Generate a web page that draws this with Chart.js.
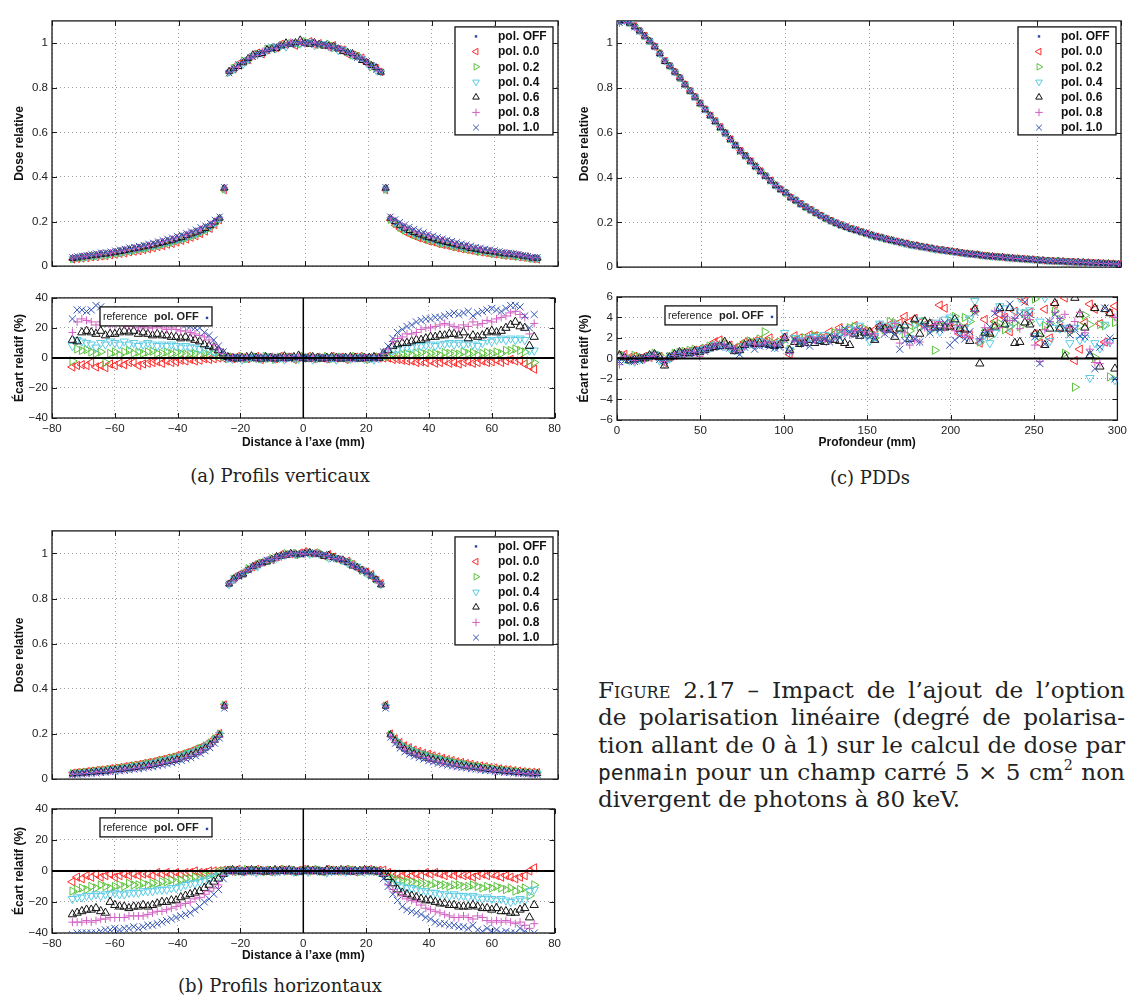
<!DOCTYPE html>
<html><head><meta charset="utf-8">
<script src="https://cdn.jsdelivr.net/npm/chart.js@4.4.1/dist/chart.umd.min.js"></script>
<style>
body{margin:0;background:#fff;width:1131px;height:999px;position:relative;overflow:hidden;}
canvas{position:absolute;}
.sub{position:absolute;width:300px;text-align:center;font-family:'DejaVu Serif',serif;font-size:18px;line-height:24px;color:#222;}
#fig{position:absolute;left:598px;top:677px;width:527px;font-family:'DejaVu Serif',serif;font-size:24px;line-height:27.3px;color:#222;}
#fig .ln{white-space:nowrap;}
#fig .in{display:inline-block;white-space:nowrap;}
#fig .tt{font-family:'DejaVu Sans Mono','Liberation Mono',monospace;font-size:0.92em;}
#fig sup{font-size:0.62em;line-height:0;vertical-align:0.7em;}
.sc{font-variant:small-caps;}
</style></head><body>
<canvas id="cA" width="555" height="267" style="left:10px;top:10px"></canvas>
<canvas id="cAr" width="555" height="167" style="left:10px;top:287px"></canvas>
<canvas id="cC" width="556" height="268" style="left:575px;top:10px"></canvas>
<canvas id="cCr" width="556" height="168" style="left:575px;top:286px"></canvas>
<canvas id="cB" width="555" height="270" style="left:10px;top:520px"></canvas>
<canvas id="cBr" width="555" height="169" style="left:10px;top:798px"></canvas>
<div class="sub" style="left:130px;top:464px">(a) Profils verticaux</div>
<div class="sub" style="left:720px;top:466px">(c) PDDs</div>
<div class="sub" style="left:130px;top:974px">(b) Profils horizontaux</div>
<div id="fig">
<div class="ln"><span class="in"><span class="sc">Figure</span> 2.17 – Impact de l’ajout de l’option</span></div>
<div class="ln"><span class="in">de polarisation linéaire (degré de polarisa-</span></div>
<div class="ln"><span class="in">tion allant de 0 à 1) sur le calcul de dose par</span></div>
<div class="ln"><span class="in"><span class="tt">penmain</span> pour un champ carré 5 × 5 cm<sup>2</sup> non</span></div>
<div class="ln last"><span class="in">divergent de photons à 80 keV.</span></div>
</div>
<script>
// ---------- DATA ----------
const seriesLabels = ['pol. OFF','pol. 0.0','pol. 0.2','pol. 0.4','pol. 0.6','pol. 0.8','pol. 1.0'];
const doseTicks = [0,0.2,0.4,0.6,0.8,1];
const profileTicks = [-80,-60,-40,-20,0,20,40,60,80];
const depthTicks = [0,50,100,150,200,250,300];
const profileDevTicks = [-40,-20,0,20,40];
const depthDevTicks = [-6,-4,-2,0,2,4,6];

const profileX = [-73.5,-72,-70.5,-69,-67.5,-66,-64.5,-63,-61.5,-60,-58.5,-57,-55.5,-54,-52.5,-51,-49.5,-48,-46.5,-45,-43.5,-42,-40.5,-39,-37.5,-36,-34.5,-33,-31.5,-30,-28.5,-27,
-25.5,
-24,-22.5,-21,-19.5,-18,-16.5,-15,-13.5,-12,-10.5,-9,-7.5,-6,-4.5,-3,-1.5,0,1.5,3,4.5,6,7.5,9,10.5,12,13.5,15,16.5,18,19.5,21,22.5,24,
25.5,
27,28.5,30,31.5,33,34.5,36,37.5,39,40.5,42,43.5,45,46.5,48,49.5,51,52.5,54,55.5,57,58.5,60,61.5,63,64.5,66,67.5,69,70.5,72,73.5];

// pol. OFF relative dose, vertical profile
const vertDose = [0.031,0.033,0.035,0.037,0.040,0.042,0.045,0.047,0.050,0.053,0.056,0.059,0.063,0.066,0.070,0.074,0.078,0.082,0.087,0.092,0.097,0.102,0.108,0.114,0.121,0.128,0.136,0.145,0.155,0.168,0.185,0.205,
0.34,
0.870,0.886,0.900,0.914,0.927,0.939,0.949,0.959,0.967,0.975,0.982,0.988,0.992,0.996,0.998,1.000,1.000,1.000,0.998,0.996,0.992,0.988,0.982,0.975,0.967,0.959,0.949,0.939,0.927,0.914,0.900,0.886,0.870,
0.34,
0.205,0.185,0.168,0.155,0.145,0.136,0.128,0.121,0.114,0.108,0.102,0.097,0.092,0.087,0.082,0.078,0.074,0.070,0.066,0.063,0.059,0.056,0.053,0.050,0.047,0.045,0.042,0.040,0.037,0.035,0.033,0.031];

// pol. OFF relative dose, horizontal profile
const horizDose = [0.031,0.033,0.035,0.037,0.040,0.042,0.045,0.047,0.050,0.053,0.056,0.059,0.063,0.066,0.070,0.074,0.078,0.082,0.087,0.092,0.097,0.102,0.108,0.114,0.121,0.128,0.136,0.145,0.155,0.168,0.185,0.205,
0.33,
0.865,0.884,0.899,0.913,0.926,0.938,0.949,0.959,0.967,0.975,0.982,0.988,0.992,0.996,0.998,1.000,1.000,1.000,0.998,0.996,0.992,0.988,0.982,0.975,0.967,0.959,0.949,0.939,0.927,0.914,0.900,0.884,0.865,
0.33,
0.205,0.185,0.168,0.155,0.145,0.136,0.128,0.121,0.114,0.108,0.102,0.097,0.092,0.087,0.082,0.078,0.074,0.070,0.066,0.063,0.059,0.056,0.053,0.050,0.047,0.045,0.042,0.040,0.037,0.035,0.033,0.031];

// relative deviation (%) vs pol. OFF, vertical profiles
const vertDev00 = [-6,-5,-4.5,-5,-3,-6,-5,-6.5,-4,-5,-3.5,-4.5,-3,-3,-5,-4,-3.5,-3,-2.5,-3.5,-2,-3,-2.5,-1.5,-2,-1,-2,-1.5,-0.5,-1,-0.5,0,
0,
0.5,-0.5,1,0,-0.5,0.5,1,-1,0,0.5,-0.5,1,0,0.5,-1,0.5,0,1,-0.5,0.5,0,-0.5,1,0,0.5,-1,0,0.5,1,-0.5,0,0.5,0,
0,
0,-1,-1,-1.5,-2,-2,-3,-2.5,-3,-2,-3.5,-3,-2,-3.5,-3,-4,-3,-2.5,-3.5,-3,-2,-3,-2.5,-1.5,-3,-2,-1,-2,-1.5,-4,-5.5,-7.5];
const vertDev02 = [-2,6,5,5.5,4,3,4,-3,3,4,2,4,5,3,4,3,4,4.5,3,3,4,3,3.5,3,2.5,3,3,2,3,2,2,1.5,
1,
-0.5,0.5,0,1,-0.5,0,0.5,-0.5,1,0,-1,0.5,0,0.5,0,-0.5,1,0,0.5,-0.5,0,1,-0.5,0,0.5,0,-0.5,1,0,0.5,-1,0,0.5,
0.5,
1,2,2,2.5,3,2,3,3.5,2.5,3,3,2,3.5,3,3,2.5,4,3,3.5,2,3,3.5,3,4,3,5,5,6,5,4,-2,-3];
const vertDev04 = [8,12,11,10,9,7,10,9,11,10,9,11,9,10,8,9,10,9,8,9,8,9,8,7,8,7,7,6,6,5,4,3,
1.5,
0,-0.5,0.5,-1,0,0.5,0,-0.5,0,1,-0.5,0,-1,0.5,0,-0.5,0,0.5,-1,0,0.5,-0.5,0,-1,0.5,0,-0.5,0,0.5,-0.5,0,-1,0,
1.5,
3,5,6,6.5,7,7,8,8,8.5,9,8,9,9.5,10,9,10,9,10,9,8,10,12,11,12,13,12,13,12,13,12,5,5];
const vertDev06 = [12,11,17,18,17,16,18,15,16,16,17,18,17,18,16,17,16,15,16,15,15,14,14,13,14,13,12,11,9,8,7,5,
3,
0.5,0,-0.5,0,0.5,1,0,-0.5,0.5,0,-0.5,0,1,0,0.5,1.5,0,-0.5,0.5,0,-0.5,0,0.5,0,-0.5,0,0.5,0,-0.5,0,0,0.5,0,
3,
5,8,9,10,10,11,12,12,13,14,14,15,15,16,16,15,17,13,15,14,15,17,18,17,18,20,22,24,21,20,8,14];
const vertDev08 = [17,24,26,25,24,22,24,23,22,22,23,22,21,22,20,21,20,20,21,20,19,20,19,18,18,17,16,15,14,12,9,6,
3,
0,0.5,-0.5,0,0.5,0,-0.5,0.5,0,0,-0.5,0.5,0,1,0,0.5,-0.5,0,0.5,0,0,-0.5,0.5,0,0.5,-0.5,0,0,0.5,0,-0.5,0,0.5,
3,
6,11,13,14,16,16,17,19,20,20,21,22,23,22,21,20,22,21,24,22,23,25,24,26,27,28,30,31,29,27,16,23];
const vertDev10 = [26,32,32,31,32,35,34,32,30,31,32,31,32,30,29,28,28,27,27,26,26,25,25,24,22,21,20,20,17,15,12,8,
4,
-0.5,0,0.5,0,-0.5,0,0.5,0,0,-0.5,0.5,0,0,-0.5,0.5,0,0,0.5,-0.5,0,0.5,0,-0.5,0,0.5,0,0,-0.5,0,0.5,0,-0.5,0,
4,
8,13,17,19,21,22,24,25,26,26,27,27,28,29,30,29,30,31,28,30,31,32,33,32,31,33,35,35,34,28,20,29];

// relative deviation (%) vs pol. OFF, horizontal profiles
const horizDev00 = [-7,-4,-5,-3,-4,-2,-4,-3,-2,-4,-3,-2,-3,-2,-3,-2,-2,-3,-1,-2,-1,-2,-1,-2,-1,-1,0,-1,-1,0,0,0,
0.5,
0.5,0,1,-0.5,0.5,0,1,0,0.5,-0.5,0,1,0.5,0,-0.5,0.5,1,0,0.5,0,-0.5,1,0.5,0,0,1,0.5,-0.5,0,0.5,1,0,0.5,
0.5,
-1,-2,-2,-3,-2,-3,-2,-3,-1,-2,-1,-2,-3,-2,-3,-2,-3,-3,-4,-3,-2,-3,-2,-3,-4,-3,-4,-5,-4,-3,0,2];
const horizDev02 = [-13,-12,-11,-12,-10,-11,-9,-10,-11,-10,-9,-10,-8,-9,-9,-8,-9,-8,-8,-7,-7,-6,-7,-6,-5,-5,-4,-4,-3,-3,-2,-1,
0,
0,0.5,-0.5,0,1,0,0.5,0,-0.5,0.5,0,0,1,0,0.5,-0.5,0,0.5,0,1,0,-0.5,0.5,0,0,0.5,1,0,-0.5,0,0.5,0,0,
-1,
-3,-5,-6,-6,-7,-7,-8,-8,-8,-9,-8,-9,-9,-10,-9,-9,-10,-10,-9,-10,-11,-10,-11,-10,-11,-12,-11,-13,-12,-11,-16,-9];
const horizDev04 = [-18,-17,-17,-16,-16,-15,-16,-15,-15,-14,-15,-15,-14,-14,-14,-13,-13,-13,-12,-12,-12,-11,-11,-10,-9,-8,-8,-7,-6,-5,-4,-3,
-1,
-0.5,0,0.5,-0.5,0,0,-1,0,0.5,0,-0.5,0,0,0.5,-0.5,0,0,-0.5,0.5,0,0,-1,0,0.5,0,-0.5,0,0.5,0,-0.5,0,0,-0.5,
-2,
-5,-8,-9,-10,-11,-11,-12,-13,-13,-14,-14,-15,-15,-16,-15,-16,-16,-17,-16,-17,-18,-17,-18,-19,-18,-19,-20,-19,-18,-19,-13,-12];
const horizDev06 = [-28,-27,-26,-25,-25,-24,-26,-27,-20,-22,-23,-23,-24,-23,-23,-22,-23,-22,-21,-20,-20,-19,-19,-17,-16,-15,-14,-13,-11,-9,-7,-5,
-2,
0,0.5,0,-0.5,0,0.5,0,0,-0.5,0,0.5,0,0,0.5,0,-0.5,0,0.5,0,0,-0.5,0.5,0,0,0.5,0,-0.5,0,0,0.5,0,0,-0.5,
-2,
-4,-8,-12,-14,-15,-16,-17,-18,-19,-19,-20,-21,-21,-22,-22,-23,-23,-23,-22,-23,-24,-24,-25,-24,-26,-26,-27,-27,-25,-24,-30,-22];
const horizDev08 = [-33,-33,-33,-32,-33,-32,-31,-31,-30,-30,-30,-30,-29,-29,-29,-29,-28,-27,-26,-26,-25,-24,-23,-22,-21,-20,-18,-17,-15,-13,-11,-9,
-3,
0,-0.5,0,0.5,0,0,-0.5,0,0.5,0,0,-0.5,0,0,0.5,0,-0.5,0,0,0.5,0,0,-0.5,0,0.5,0,0,-0.5,0,0.5,0,-0.5,0,
-3,
-9,-12,-14,-16,-18,-19,-20,-22,-24,-25,-26,-27,-28,-29,-30,-30,-29,-30,-31,-29,-30,-32,-33,-32,-33,-32,-33,-34,-33,-35,-37,-34];
const horizDev10 = [-41,-40,-40,-40,-40,-40,-39,-38,-38,-37,-38,-37,-37,-36,-37,-36,-35,-35,-34,-33,-32,-31,-30,-29,-28,-27,-25,-23,-20,-18,-15,-12,
-5,
0,0.5,0,-0.5,0,0.5,0,0,0.5,-0.5,0,0,0.5,0,0,-0.5,0,0.5,0,0,0.5,0,-0.5,0,0,0.5,0,0,-0.5,0,0.5,0,0,
-5,
-10,-15,-19,-23,-25,-26,-27,-28,-30,-31,-33,-34,-34,-35,-35,-36,-36,-37,-35,-38,-39,-37,-39,-38,-40,-39,-40,-40,-37,-39,-41,-40];

// depth (mm)
const depthX = [1.5,4.5,7.5,10.5,13.5,16.5,19.5,22.5,25.5,28.5,
31.5,34.5,37.5,40.5,43.5,46.5,49.5,52.5,55.5,58.5,
61.5,64.5,67.5,70.5,73.5,76.5,79.5,82.5,85.5,88.5,
91.5,94.5,97.5,100.5,103.5,106.5,109.5,112.5,115.5,118.5,
121.5,124.5,127.5,130.5,133.5,136.5,139.5,142.5,145.5,148.5,
151.5,154.5,157.5,160.5,163.5,166.5,169.5,172.5,175.5,178.5,
181.5,184.5,187.5,190.5,193.5,196.5,199.5,202.5,205.5,208.5,
211.5,214.5,217.5,220.5,223.5,226.5,229.5,232.5,235.5,238.5,
241.5,244.5,247.5,250.5,253.5,256.5,259.5,262.5,265.5,268.5,
271.5,274.5,277.5,280.5,283.5,286.5,289.5,292.5,295.5,298.5];

// pol. OFF depth dose
const depthDose = [1.095,1.100,1.092,1.075,1.055,1.032,1.007,0.981,0.953,0.925,
0.897,0.868,0.840,0.811,0.782,0.754,0.726,0.698,0.670,0.643,
0.616,0.590,0.564,0.539,0.514,0.490,0.466,0.443,0.421,0.400,
0.380,0.360,0.342,0.325,0.308,0.292,0.277,0.263,0.250,0.237,
0.225,0.213,0.202,0.192,0.183,0.175,0.167,0.160,0.153,0.146,
0.139,0.133,0.127,0.121,0.116,0.111,0.106,0.101,0.096,0.092,
0.088,0.084,0.080,0.076,0.073,0.070,0.067,0.064,0.061,0.058,
0.056,0.053,0.051,0.048,0.046,0.044,0.042,0.040,0.038,0.037,
0.035,0.033,0.032,0.030,0.029,0.027,0.026,0.025,0.024,0.023,
0.022,0.021,0.020,0.019,0.018,0.017,0.016,0.015,0.014,0.013];

const depthDev00 = [0.3,0.4,0.1,0.2,0.0,0.2,0.1,0.3,0.2,-0.4,
0.1,0.3,0.5,0.6,0.7,0.8,0.9,1.0,1.1,1.6,
1.8,1.4,1.3,1.0,1.2,1.6,1.5,1.7,1.8,1.6,
2.0,1.5,1.4,2.1,0.4,2.2,2.0,1.8,2.3,2.2,
2.0,2.1,2.6,2.4,3.0,2.6,2.8,3.2,2.9,2.7,
2.5,2.8,3.2,3.0,3.3,2.8,3.5,4.1,3.6,3.9,
3.5,3.3,3.4,3.2,5.2,4.9,3.5,3.0,2.4,3.0,
2.3,4.8,1.5,3.8,2.6,3.6,4.3,4.0,2.6,4.6,
6.0,5.6,4.5,2.4,1.5,4.8,2.0,5.3,3.0,5.9,
2.8,-0.2,0.9,3.5,5.3,4.8,3.4,1.6,4.4,5.1];
const depthDev02 = [0.4,0.2,-0.1,0.3,0.1,-0.1,0.2,0.5,0.3,-0.3,
0.2,0.5,0.6,0.7,0.8,0.9,0.7,1.0,1.2,1.3,
1.2,1.5,1.2,0.9,1.1,1.4,1.7,1.5,1.9,2.6,
1.7,1.3,1.6,1.8,0.9,1.9,1.6,2.0,1.9,2.2,
2.2,1.8,2.1,2.5,2.4,2.7,3.0,3.1,2.6,2.9,
2.4,2.0,3.0,2.8,3.6,3.5,3.0,2.4,2.7,3.2,
3.1,3.6,2.7,0.8,3.0,3.2,3.7,4.1,3.2,4.0,
3.6,4.6,1.6,2.5,2.1,3.3,3.4,2.8,3.1,3.5,
3.1,4.4,3.6,5.8,2.2,3.2,3.4,4.6,3.8,0.5,
2.6,-2.8,3.2,4.2,3.3,0.1,3.3,3.2,-1.8,3.5];
const depthDev04 = [0.2,0.0,-0.2,-0.3,-0.1,0.0,0.2,0.4,-0.2,-0.5,
0.0,0.3,0.5,0.4,0.6,0.7,0.8,0.9,1.0,1.3,
1.3,1.2,1.0,0.8,0.7,1.2,1.4,1.3,1.7,1.5,
1.4,1.1,1.5,2.5,0.8,2.0,1.8,1.7,2.0,2.1,
1.9,2.3,2.0,2.2,2.6,2.4,2.9,2.8,3.2,2.5,
1.7,2.2,3.4,3.2,2.9,3.3,2.8,3.1,2.0,3.4,
3.7,3.3,2.9,3.5,2.6,3.8,4.0,3.6,2.8,3.0,
3.9,5.6,1.7,2.3,1.5,2.5,5.1,4.9,3.0,4.6,
5.9,4.5,4.7,2.2,3.6,5.9,1.7,3.0,2.9,3.0,
1.5,3.0,1.8,2.0,-1.9,1.5,1.0,3.3,1.6,-2.1];
const depthDev06 = [0.3,0.1,-0.2,-0.1,0.0,0.0,0.3,0.4,0.1,-0.7,
0.1,0.4,0.6,0.5,0.5,0.7,0.6,0.8,1.0,1.1,
1.2,1.6,1.2,0.7,0.8,1.3,1.5,1.4,1.5,1.4,
1.3,1.2,1.3,2.0,0.8,1.6,1.4,1.5,1.8,1.5,
1.7,1.6,1.9,1.8,1.7,1.5,1.3,2.4,2.2,2.5,
2.6,1.8,3.1,2.9,2.8,2.1,2.9,3.2,1.9,3.8,
2.4,3.6,3.4,3.0,3.2,3.0,3.1,3.8,2.9,2.8,
1.7,4.8,-0.5,2.5,2.4,3.1,4.9,3.3,4.9,1.5,
1.6,3.5,3.3,2.4,2.4,1.3,2.9,5.4,2.9,0.2,
2.9,5.9,4.3,3.0,0.3,4.9,-0.8,4.8,4.4,-1.0];
const depthDev08 = [-0.6,0.2,0.0,-0.2,0.1,-0.1,0.2,0.3,0.0,-0.3,
0.0,0.3,0.5,0.4,0.7,0.6,0.2,0.9,1.0,1.3,
1.4,1.3,1.1,0.9,0.7,1.2,1.6,1.4,1.3,1.5,
1.6,1.3,1.4,2.0,0.5,1.7,1.9,1.6,2.1,1.8,
2.0,1.9,1.7,2.2,2.8,2.5,2.3,2.7,2.9,2.6,
2.4,2.3,3.3,2.6,2.9,3.4,1.5,2.5,1.3,1.8,
1.6,3.0,2.8,3.3,3.6,3.0,3.4,2.7,3.2,2.2,
2.0,4.6,1.9,3.0,2.7,4.6,3.0,4.1,3.7,3.9,
2.9,4.2,3.8,1.3,-0.3,2.8,3.6,4.5,3.9,4.3,
3.0,3.6,4.5,2.5,0.9,-0.4,-0.5,1.6,1.5,4.0];
const depthDev10 = [-0.3,-0.2,-0.1,-0.3,-0.2,0.1,0.2,0.3,-0.1,-0.2,
0.2,0.3,0.4,0.6,0.5,0.5,0.8,0.7,1.0,1.2,
1.1,1.2,1.0,0.8,0.4,1.1,1.3,0.9,1.2,1.3,
1.2,1.0,1.1,1.8,0.7,1.8,1.5,1.4,1.2,1.8,
1.7,1.9,1.6,2.1,2.0,2.9,2.6,2.3,2.8,2.2,
2.1,1.9,3.0,2.4,2.7,2.3,0.9,1.7,1.7,1.9,
1.6,3.1,2.5,2.9,2.8,3.5,1.3,1.8,2.2,1.9,
2.6,4.5,1.8,2.4,3.1,4.4,4.7,3.9,5.3,3.8,
4.3,5.5,4.3,2.1,-0.5,1.4,3.6,4.3,3.8,3.0,
2.3,2.9,2.2,2.1,0.5,-1.0,1.1,4.9,2.0,-2.0];

// ---------- STYLE ----------
const FONT = "'Liberation Sans', Arial, Helvetica, sans-serif";
Chart.defaults.font.family = FONT;
Chart.defaults.font.size = 11.5;
Chart.defaults.color = '#222';
const STY = [
  {ps:'rect', rot:0, col:'#2448a8', fill:true},
  {ps:'triangle', rot:-90, col:'#ff2b2b'},
  {ps:'triangle', rot:90, col:'#5cc23e'},
  {ps:'triangle', rot:180, col:'#5ccbe2'},
  {ps:'triangle', rot:0, col:'#111111'},
  {ps:'cross', rot:0, col:'#d05ec2'},
  {ps:'crossRot', rot:0, col:'#3454b4'}
];

function sym(ctx, k, x, y, r) {
  const s = STY[k];
  ctx.save();
  ctx.strokeStyle = s.col; ctx.fillStyle = s.col; ctx.lineWidth = 1;
  ctx.beginPath();
  if (s.ps === 'rect') { ctx.fillRect(x - 1.2, y - 1.2, 2.4, 2.4); }
  else if (s.ps === 'triangle') {
    const a0 = s.rot * Math.PI / 180;
    for (let j = 0; j < 3; j++) {
      const a = a0 + j * 2 * Math.PI / 3;
      const px = x + Math.sin(a) * r, py = y - Math.cos(a) * r;
      if (j) ctx.lineTo(px, py); else ctx.moveTo(px, py);
    }
    ctx.closePath(); ctx.stroke();
  } else if (s.ps === 'cross') {
    ctx.moveTo(x - r, y); ctx.lineTo(x + r, y); ctx.moveTo(x, y - r); ctx.lineTo(x, y + r); ctx.stroke();
  } else {
    const d = r * 0.75;
    ctx.moveTo(x - d, y - d); ctx.lineTo(x + d, y + d); ctx.moveTo(x - d, y + d); ctx.lineTo(x + d, y - d); ctx.stroke();
  }
  ctx.restore();
}

function drawMainLegend(ctx, a) {
  const w = 98, h = 108, x0 = a.right - 5 - w, y0 = a.top + 6;
  ctx.fillStyle = '#fff'; ctx.fillRect(x0, y0, w, h);
  ctx.lineWidth = 1.3; ctx.strokeStyle = '#111'; ctx.strokeRect(x0, y0, w, h);
  ctx.font = 'bold 12px ' + FONT; ctx.textBaseline = 'middle'; ctx.textAlign = 'left';
  seriesLabels.forEach((lab, k) => {
    const yy = y0 + 9.5 + k * 15.2;
    sym(ctx, k, x0 + 21, yy, 3.8);
    ctx.fillStyle = '#111'; ctx.fillText(lab, x0 + 43, yy + 0.5);
  });
}
function drawRefLegend(ctx, a) {
  const x0 = a.left + 48, y0 = a.top + 9, w = 112, h = 19;
  ctx.fillStyle = '#fff'; ctx.fillRect(x0, y0, w, h);
  ctx.lineWidth = 1.3; ctx.strokeStyle = '#111'; ctx.strokeRect(x0, y0, w, h);
  ctx.textBaseline = 'middle'; ctx.textAlign = 'left'; ctx.fillStyle = '#222';
  ctx.font = '10.5px ' + FONT; ctx.fillText('reference', x0 + 3, y0 + h / 2 + 0.5);
  ctx.font = 'bold 11px ' + FONT; ctx.fillText(seriesLabels[0], x0 + 54, y0 + h / 2 + 0.5);
  sym(ctx, 0, x0 + 107, y0 + h / 2 + 1.5, 1.2);
}

const framePlugin = {
  id: 'frame',
  beforeDatasetsDraw(chart) {
    const {ctx, chartArea: a, scales} = chart;
    ctx.save();
    ctx.strokeStyle = '#1a1a1a'; ctx.lineWidth = 1;
    const tl = 5;
    ctx.beginPath();
    scales.x.ticks.forEach(t => { const p = Math.round(scales.x.getPixelForValue(t.value)) + 0.5; ctx.moveTo(p, a.bottom); ctx.lineTo(p, a.bottom - tl); ctx.moveTo(p, a.top); ctx.lineTo(p, a.top + tl); });
    scales.y.ticks.forEach(t => { const p = Math.round(scales.y.getPixelForValue(t.value)) + 0.5; ctx.moveTo(a.left, p); ctx.lineTo(a.left + tl, p); ctx.moveTo(a.right, p); ctx.lineTo(a.right - tl, p); });
    ctx.stroke();
    ctx.lineWidth = 1.3;
    ctx.strokeRect(a.left, a.top, a.right - a.left, a.bottom - a.top);
    ctx.restore();
  },
  afterDatasetsDraw(chart, args, o) {
    const {ctx, chartArea: a, scales} = chart;
    ctx.save();
    ctx.strokeStyle = '#000';
    if (o.zeroH) { const py = scales.y.getPixelForValue(0); ctx.lineWidth = 2; ctx.beginPath(); ctx.moveTo(a.left, py); ctx.lineTo(a.right, py); ctx.stroke(); }
    if (o.zeroV) { const px = scales.x.getPixelForValue(0); ctx.lineWidth = 1.5; ctx.beginPath(); ctx.moveTo(px, a.top); ctx.lineTo(px, a.bottom); ctx.stroke(); }
    if (o.legend === 'main') drawMainLegend(ctx, a);
    if (o.legend === 'ref') drawRefLegend(ctx, a);
    ctx.restore();
  }
};
Chart.register(framePlugin);

const fmt = v => String(v).replace('-', '\u2212');
function pts(xs, ys) { return xs.map((x, i) => ({x, y: ys[i]})); }
function applyDev(base, dev) { return base.map((v, i) => v * (1 + dev[i] / 100)); }

function ds(k, xs, ys, big) {
  const s = STY[k];
  let r;
  if (k === 0) r = 1.3;
  else if (s.ps === 'triangle') r = big ? 4.8 : 4.0;
  else if (s.ps === 'cross') r = big ? 4.0 : 3.5;
  else r = big ? 5.0 : 4.4;
  return {
    label: seriesLabels[k], data: pts(xs, ys), order: 6 - k, showLine: false,
    pointStyle: s.ps, pointRotation: s.rot, pointRadius: r,
    pointBorderColor: s.col, pointBackgroundColor: s.fill ? s.col : 'rgba(0,0,0,0)',
    pointBorderWidth: k === 0 ? 0.5 : 1, borderColor: s.col, backgroundColor: 'rgba(0,0,0,0)'
  };
}

function scale(min, max, tickVals, showLabels, title, fitProp, fitVal) {
  return {
    type: 'linear', min, max,
    afterBuildTicks: s => { s.ticks = tickVals.map(v => ({value: v})); },
    afterFit: s => { s[fitProp] = fitVal; },
    ticks: {display: showLabels, autoSkip: false, maxRotation: 0, padding: 4, callback: fmt, color: '#222', font: {size: 11.5}},
    grid: {color: '#9c9c9c', lineWidth: 1, drawTicks: false},
    border: {display: false, dash: [1, 3]},
    title: {display: !!title, text: title || '', color: '#111', font: {size: 12, weight: 'bold'}, padding: {top: 2, bottom: 4}}
  };
}

function make(id, datasets, xs, ys, pad, frame) {
  new Chart(document.getElementById(id), {
    type: 'scatter',
    data: {datasets},
    options: {
      responsive: false, animation: false, events: [],
      layout: {padding: {top: pad.t, right: pad.r, left: 0, bottom: 0}, autoPadding: false},
      plugins: {legend: {display: false}, tooltip: {enabled: false}, frame},
      scales: {x: xs, y: ys}
    }
  });
}

function mainSets(xs, base, devs) {
  const all = [base].concat(devs.map(d => applyDev(base, d)));
  return all.map((ys, k) => ds(k, xs, ys, false));
}
function devSets(xs, devs) { return devs.map((d, i) => ds(i + 1, xs, d, true)); }

const vDevs = [vertDev00, vertDev02, vertDev04, vertDev06, vertDev08, vertDev10];
const hDevs = [horizDev00, horizDev02, horizDev04, horizDev06, horizDev08, horizDev10];
const dDevs = [depthDev00, depthDev02, depthDev04, depthDev06, depthDev08, depthDev10];

// (a) vertical profiles
make('cA', mainSets(profileX, vertDose, vDevs),
  scale(-80, 80, profileTicks, false, '', 'height', 0),
  scale(0, 1.1, doseTicks, true, 'Dose relative', 'width', 42),
  {t: 7, r: 7}, {legend: 'main'});
make('cAr', devSets(profileX, vDevs),
  scale(-80, 80, profileTicks, true, 'Distance à l’axe (mm)', 'height', 36),
  scale(-40, 40, profileDevTicks, true, 'Écart relatif (%)', 'width', 42),
  {t: 7, r: 7}, {legend: 'ref', zeroH: true, zeroV: true});
// (c) PDDs
make('cC', mainSets(depthX, depthDose, dDevs),
  scale(0, 300, depthTicks, false, '', 'height', 0),
  scale(0, 1.1, doseTicks, true, 'Dose relative', 'width', 42),
  {t: 8, r: 10}, {legend: 'main'});
make('cCr', devSets(depthX, dDevs),
  scale(0, 300, depthTicks, true, 'Profondeur (mm)', 'height', 34),
  scale(-6, 6, depthDevTicks, true, 'Écart relatif (%)', 'width', 42),
  {t: 7, r: 10}, {legend: 'ref', zeroH: true});
// (b) horizontal profiles
make('cB', mainSets(profileX, horizDose, hDevs),
  scale(-80, 80, profileTicks, false, '', 'height', 0),
  scale(0, 1.1, doseTicks, true, 'Dose relative', 'width', 42),
  {t: 10, r: 7}, {legend: 'main'});
make('cBr', devSets(profileX, hDevs),
  scale(-80, 80, profileTicks, true, 'Distance à l’axe (mm)', 'height', 34),
  scale(-40, 40, profileDevTicks, true, 'Écart relatif (%)', 'width', 42),
  {t: 7, r: 7}, {legend: 'ref', zeroH: true, zeroV: true});

// justify caption lines: fit the widest full line to the column width
(function () {
  const fig = document.getElementById('fig');
  const W = 527, base = 24;
  const lines = Array.from(fig.querySelectorAll('.ln'));
  let maxW = 0;
  lines.forEach(l => { if (!l.classList.contains('last')) maxW = Math.max(maxW, l.firstElementChild.getBoundingClientRect().width); });
  fig.style.fontSize = (base * (W - 3) / maxW) + 'px';
  lines.forEach(l => {
    if (l.classList.contains('last')) return;
    const sp = l.firstElementChild;
    const w = sp.getBoundingClientRect().width;
    const n = (sp.textContent.match(/ /g) || []).length;
    if (n) sp.style.wordSpacing = ((W - w) / n) + 'px';
  });
})();
</script>
</body></html>
